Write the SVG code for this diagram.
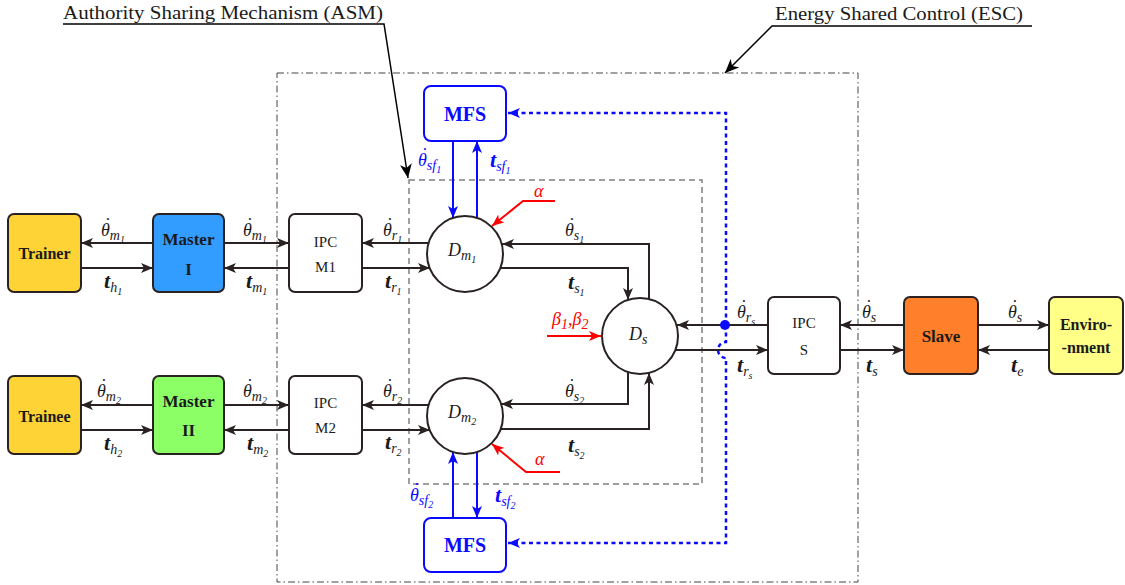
<svg xmlns="http://www.w3.org/2000/svg" width="1125" height="585" viewBox="0 0 1125 585">
<style>
.nd{stroke:#2a2222;stroke-width:2}
.ln{fill:none;stroke:#2a2222;stroke-width:2}
.bl{fill:none;stroke:#0a0aff;stroke-width:2}
.rd{fill:none;stroke:#ff0000;stroke-width:2}
.dt{fill:none;stroke:#0a0aff;stroke-width:2.5;stroke-dasharray:4 3.5}
.esc{fill:none;stroke:#444;stroke-width:1;stroke-dasharray:7 3 1.5 3}
.asm{fill:none;stroke:#808080;stroke-width:1.5;stroke-dasharray:6 4}
.ann{fill:none;stroke:#000;stroke-width:1.5}
text{font-family:"Liberation Serif","Times New Roman","DejaVu Serif",serif}
.m{font-style:italic;font-size:18px;fill:#1a1a1a}
.tt{font-style:italic;font-weight:bold;font-size:22px;fill:#1a1a1a}
.mb{fill:#0a0aff}
.mr{fill:#ff0000}
.s{font-size:14px;font-weight:normal}
.ss{font-size:10px;font-weight:normal}
.t{font-weight:bold;text-anchor:middle;fill:#1a1a1a}
.ipc{text-anchor:middle;fill:#1a1a1a;font-size:15px}
.an{font-size:19px;fill:#1a1a1a}
</style>
<defs>
<marker id="a" viewBox="0 0 12 10" refX="12" refY="5" markerWidth="12" markerHeight="10" markerUnits="userSpaceOnUse" orient="auto"><path d="M0,0 L12,5 L0,10 L3,5 z" fill="#2a2222"/></marker>
<marker id="ab" viewBox="0 0 12 10" refX="12" refY="5" markerWidth="12" markerHeight="10" markerUnits="userSpaceOnUse" orient="auto"><path d="M0,0 L12,5 L0,10 L3,5 z" fill="#0a0aff"/></marker>
<marker id="ar" viewBox="0 0 12 10" refX="12" refY="5" markerWidth="12" markerHeight="10" markerUnits="userSpaceOnUse" orient="auto"><path d="M0,0 L12,5 L0,10 L3,5 z" fill="#ff0000"/></marker>
<marker id="ak" viewBox="0 0 14 12" refX="14" refY="6" markerWidth="14" markerHeight="12" markerUnits="userSpaceOnUse" orient="auto"><path d="M0,0 L14,6 L0,12 L4,6 z" fill="#000"/></marker>
</defs>
<rect width="1125" height="585" fill="#fff"/>

<g id="regions">
<rect class="esc" x="277" y="73" width="581" height="509"/>
<rect class="asm" x="409" y="180" width="293" height="304"/>
</g>

<g id="annotations">
<text class="an" x="63" y="19" textLength="320" lengthAdjust="spacingAndGlyphs">Authority Sharing Mechanism (ASM)</text>
<path class="ann" d="M63,24 H384 L408,178" marker-end="url(#ak)"/>
<text class="an" x="775" y="20" textLength="248" lengthAdjust="spacingAndGlyphs">Energy Shared Control (ESC)</text>
<path class="ann" d="M1032,26 H772 L725,73" marker-end="url(#ak)"/>
</g>

<g id="connectors">
<path class="ln" d="M153,243 H81" marker-end="url(#a)"/>
<path class="ln" d="M81,268 H153" marker-end="url(#a)"/>
<path class="ln" d="M224,243 H289" marker-end="url(#a)"/>
<path class="ln" d="M289,268 H224" marker-end="url(#a)"/>
<path class="ln" d="M429,243 H362" marker-end="url(#a)"/>
<path class="ln" d="M362,268 H430" marker-end="url(#a)"/>
<path class="ln" d="M500,268 H628 V300" marker-end="url(#a)"/>
<path class="ln" d="M649,299 V244 H502" marker-end="url(#a)"/>
<path class="ln" d="M153,405 H81" marker-end="url(#a)"/>
<path class="ln" d="M81,430 H153" marker-end="url(#a)"/>
<path class="ln" d="M224,405 H289" marker-end="url(#a)"/>
<path class="ln" d="M289,430 H224" marker-end="url(#a)"/>
<path class="ln" d="M429,405 H362" marker-end="url(#a)"/>
<path class="ln" d="M362,430 H430" marker-end="url(#a)"/>
<path class="ln" d="M628,372 V404 H501" marker-end="url(#a)"/>
<path class="ln" d="M500,429 H649 V373" marker-end="url(#a)"/>
<path class="ln" d="M768,325 H677" marker-end="url(#a)"/>
<path class="ln" d="M675,350 H768" marker-end="url(#a)"/>
<path class="ln" d="M904,325 H840" marker-end="url(#a)"/>
<path class="ln" d="M840,350 H904" marker-end="url(#a)"/>
<path class="ln" d="M978,325 H1049" marker-end="url(#a)"/>
<path class="ln" d="M1049,350 H978" marker-end="url(#a)"/>
<path class="bl" d="M453,141 V218" marker-end="url(#ab)"/>
<path class="bl" d="M477,218 V141" marker-end="url(#ab)"/>
<path class="bl" d="M453,518 V452" marker-end="url(#ab)"/>
<path class="bl" d="M477,452 V518" marker-end="url(#ab)"/>
<path class="dt" d="M726,325 V113 H508" marker-end="url(#ab)"/>
<path class="dt" d="M726,325 V342 A8,8 0 0 0 726,358 V543 H508" marker-end="url(#ab)"/>
<circle cx="725" cy="325" r="5" fill="#0a0aff"/>
<path class="rd" d="M555,201 H523 L492,226" marker-end="url(#ar)"/>
<path class="rd" d="M560,472 H526 L492,444" marker-end="url(#ar)"/>
<path class="rd" d="M547,336 H601" marker-end="url(#ar)"/>
</g>

<g id="labels">
<text class="m" x="101" y="236">θ<tspan dx="-6" dy="-5">˙</tspan><tspan class="s" dy="9">m</tspan><tspan class="ss" dy="3">1</tspan></text>
<text class="tt" x="104" y="288">t<tspan class="s" dy="4">h</tspan><tspan class="ss" dy="3">1</tspan></text>
<text class="m" x="243" y="236">θ<tspan dx="-6" dy="-5">˙</tspan><tspan class="s" dy="9">m</tspan><tspan class="ss" dy="3">1</tspan></text>
<text class="tt" x="246" y="288">t<tspan class="s" dy="4">m</tspan><tspan class="ss" dy="3">1</tspan></text>
<text class="m" x="383" y="236">θ<tspan dx="-6" dy="-5">˙</tspan><tspan class="s" dy="9">r</tspan><tspan class="ss" dy="3">1</tspan></text>
<text class="tt" x="385" y="288">t<tspan class="s" dy="4">r</tspan><tspan class="ss" dy="3">1</tspan></text>
<text class="m" x="565" y="236">θ<tspan dx="-6" dy="-5">˙</tspan><tspan class="s" dy="9">s</tspan><tspan class="ss" dy="3">1</tspan></text>
<text class="tt" x="568" y="289">t<tspan class="s" dy="4">s</tspan><tspan class="ss" dy="3">1</tspan></text>

<text class="m" x="97" y="397">θ<tspan dx="-6" dy="-5">˙</tspan><tspan class="s" dy="9">m</tspan><tspan class="ss" dy="3">2</tspan></text>
<text class="tt" x="104" y="450">t<tspan class="s" dy="4">h</tspan><tspan class="ss" dy="3">2</tspan></text>
<text class="m" x="243" y="397">θ<tspan dx="-6" dy="-5">˙</tspan><tspan class="s" dy="9">m</tspan><tspan class="ss" dy="3">2</tspan></text>
<text class="tt" x="247" y="450">t<tspan class="s" dy="4">m</tspan><tspan class="ss" dy="3">2</tspan></text>
<text class="m" x="383" y="397">θ<tspan dx="-6" dy="-5">˙</tspan><tspan class="s" dy="9">r</tspan><tspan class="ss" dy="3">2</tspan></text>
<text class="tt" x="385" y="449">t<tspan class="s" dy="4">r</tspan><tspan class="ss" dy="3">2</tspan></text>
<text class="m" x="565" y="397">θ<tspan dx="-6" dy="-5">˙</tspan><tspan class="s" dy="9">s</tspan><tspan class="ss" dy="3">2</tspan></text>
<text class="tt" x="568" y="452">t<tspan class="s" dy="4">s</tspan><tspan class="ss" dy="3">2</tspan></text>

<text class="m" x="737" y="318">θ<tspan dx="-6" dy="-5">˙</tspan><tspan class="s" dy="9">r</tspan><tspan class="ss" dy="3">s</tspan></text>
<text class="tt" x="737" y="372">t<tspan class="s" dy="4">r</tspan><tspan class="ss" dy="3">s</tspan></text>
<text class="m" x="862" y="318">θ<tspan dx="-6" dy="-5">˙</tspan><tspan class="s" dy="9">s</tspan></text>
<text class="tt" x="866" y="372">t<tspan class="s" dy="4">s</tspan></text>
<text class="m" x="1008" y="318">θ<tspan dx="-6" dy="-5">˙</tspan><tspan class="s" dy="9">s</tspan></text>
<text class="tt" x="1011" y="372">t<tspan class="s" dy="4">e</tspan></text>

<text class="m mb" x="418" y="166">θ<tspan dx="-6" dy="-5">˙</tspan><tspan class="s" dy="9">sf</tspan><tspan class="ss" dy="3">1</tspan></text>
<text class="tt mb" x="490" y="167">t<tspan class="s" dy="4">sf</tspan><tspan class="ss" dy="3">1</tspan></text>
<text class="m mb" x="410" y="501">θ<tspan dx="-6" dy="-5">˙</tspan><tspan class="s" dy="9">sf</tspan><tspan class="ss" dy="3">2</tspan></text>
<text class="tt mb" x="495" y="502">t<tspan class="s" dy="4">sf</tspan><tspan class="ss" dy="3">2</tspan></text>

<text class="m mr" x="534" y="197" font-size="21">α</text>
<text class="m mr" x="535" y="465" font-size="21">α</text>
<text class="m mr" x="552" y="325">β<tspan class="s" dy="4">1</tspan><tspan dy="-4">,β</tspan><tspan class="s" dy="4">2</tspan></text>
</g>

<g id="trainer">
<rect class="nd" x="8" y="214" width="73" height="78" rx="6" fill="#fdd335"/>
<text class="t" x="44.5" y="259" font-size="16">Trainer</text>
</g>
<g id="master1">
<rect class="nd" x="153" y="214" width="71" height="78" rx="6" fill="#339cff"/>
<text class="t" x="188.5" y="245" font-size="17">Master</text>
<text class="t" x="188.5" y="275" font-size="17">I</text>
</g>
<g id="ipcm1">
<rect class="nd" x="289" y="214" width="73" height="78" rx="6" fill="#fff"/>
<text class="ipc" x="325.5" y="247">IPC</text>
<text class="ipc" x="325.5" y="272">M1</text>
</g>
<g id="trainee">
<rect class="nd" x="8" y="376" width="73" height="78" rx="6" fill="#fdd335"/>
<text class="t" x="44.5" y="422" font-size="16">Trainee</text>
</g>
<g id="master2">
<rect class="nd" x="153" y="376" width="71" height="78" rx="6" fill="#8cff66"/>
<text class="t" x="188.5" y="407" font-size="17">Master</text>
<text class="t" x="188.5" y="436" font-size="17">II</text>
</g>
<g id="ipcm2">
<rect class="nd" x="289" y="376" width="73" height="78" rx="6" fill="#fff"/>
<text class="ipc" x="325.5" y="408">IPC</text>
<text class="ipc" x="325.5" y="433">M2</text>
</g>
<g id="dm1">
<circle class="nd" cx="465" cy="254" r="38" fill="#fff"/>
<text class="m" x="448" y="256" font-size="20">D<tspan class="s" dy="4">m</tspan><tspan class="ss" dy="3">1</tspan></text>
</g>
<g id="dm2">
<circle class="nd" cx="465" cy="416" r="38" fill="#fff"/>
<text class="m" x="448" y="418" font-size="20">D<tspan class="s" dy="4">m</tspan><tspan class="ss" dy="3">2</tspan></text>
</g>
<g id="ds">
<circle class="nd" cx="640" cy="336" r="38" fill="#fff"/>
<text class="m" x="629" y="340" font-size="20">D<tspan class="s" dy="4">s</tspan></text>
</g>
<g id="mfs1">
<rect x="424" y="86" width="82" height="55" rx="7" fill="#fff" stroke="#0a0aff" stroke-width="2"/>
<text class="t" x="465" y="121" font-size="20" style="fill:#0a0aff">MFS</text>
</g>
<g id="mfs2">
<rect x="424" y="518" width="82" height="54" rx="7" fill="#fff" stroke="#0a0aff" stroke-width="2"/>
<text class="t" x="465" y="552" font-size="20" style="fill:#0a0aff">MFS</text>
</g>
<g id="ipcs">
<rect class="nd" x="768" y="297" width="72" height="77" rx="6" fill="#fff"/>
<text class="ipc" x="804" y="328">IPC</text>
<text class="ipc" x="804" y="355" font-size="16">S</text>
</g>
<g id="slave">
<rect class="nd" x="904" y="297" width="74" height="77" rx="6" fill="#ff7f2a"/>
<text class="t" x="941" y="342" font-size="17">Slave</text>
</g>
<g id="environment">
<rect class="nd" x="1049" y="297" width="74" height="77" rx="6" fill="#ffff88"/>
<text class="t" x="1086" y="330" font-size="16">Enviro-</text>
<text class="t" x="1086" y="353" font-size="16">-nment</text>
</g>
</svg>
